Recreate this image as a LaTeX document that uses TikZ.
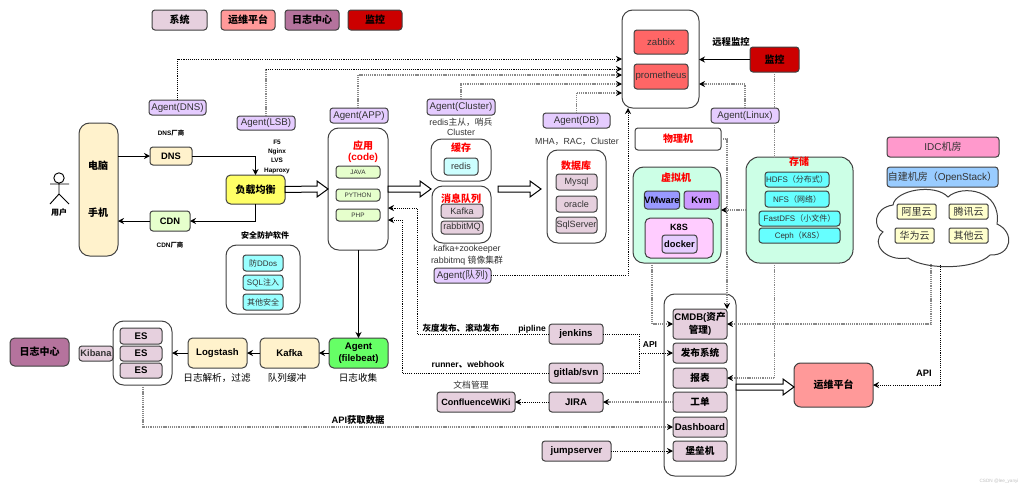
\documentclass[tikz,border=0pt]{standalone}
\usepackage{fontspec}
\setmainfont{Liberation Sans}
\newfontfamily\cjk{Noto Sans CJK SC}
\usetikzlibrary{arrows.meta,calc}
\newcommand\zh[1]{{\cjk #1}}
\newcommand\fs[1]{\fontsize{#1}{#1}\selectfont}
\newcommand\bx[7][]{\node[rbox,#1,minimum width={(#5-#3)*0.75pt},minimum height={(#6-#4)*0.75pt}] (#2) at ({(#3+#5)/2},{(#4+#6)/2}) {#7};}
\newcommand\blk[2]{\draw[blockarrow] ($(#1)+(0,-3)$) -- ($(#2)+(-11,-3)$) -- ($(#2)+(-11,-8)$) -- (#2) -- ($(#2)+(-11,8)$) -- ($(#2)+(-11,3)$) -- ($(#1)+(0,3)$) -- cycle;}
\definecolor{sysc}{HTML}{E6D0DE}
\definecolor{opsc}{HTML}{FF9999}
\definecolor{logc}{HTML}{B5739D}
\definecolor{monc}{HTML}{CC0000}
\definecolor{agc}{HTML}{E5CCFF}
\definecolor{yel}{HTML}{FFF2CC}
\definecolor{grn}{HTML}{E6FFCC}
\definecolor{cy}{HTML}{99FFFF}
\definecolor{cyb}{HTML}{66FFFF}
\definecolor{cyl}{HTML}{CCFFFF}
\definecolor{mint}{HTML}{CCFFE6}
\definecolor{tx}{HTML}{333333}
\definecolor{gl}{HTML}{888888}
\definecolor{lby}{HTML}{FFFF66}
\definecolor{prm}{HTML}{FF6666}
\definecolor{vmw}{HTML}{9999FF}
\definecolor{kvmc}{HTML}{CC99FF}
\definecolor{k8c}{HTML}{FFCCFF}
\definecolor{idcc}{HTML}{FF99CC}
\definecolor{selfc}{HTML}{99CCFF}
\definecolor{cldc}{HTML}{FFFFCC}
\definecolor{fbc}{HTML}{66FF66}
\tikzset{
  rbox/.style={draw=black!75,line width=0.75pt,rounded corners=2.2pt,inner sep=0pt,outer sep=0pt,align=center,text=black,font=\fs{7}},
  cont/.style={rounded corners=8pt},
  legend/.style={font=\fs{7.5}\bfseries},
  agentbox/.style={fill=agc,text=tx,font=\fs{7.3}},
  sysbox/.style={fill=sysc,font=\fs{7.2}\bfseries},
  plainsys/.style={fill=sysc,text=tx,font=\fs{6.8}},
  cyanbox/.style={fill=cy,text=tx,font=\fs{6}},
  greenbox/.style={fill=grn,text=tx,font=\fs{4.8}},
  cloudbox/.style={fill=cldc,text=tx,font=\fs{7.5},rounded corners=1pt},
  lab/.style={inner sep=0pt,outer sep=0pt,align=center,text=black,font=\fs{7}},
  blab/.style={lab,font=\fs{7}\bfseries},
  tiny/.style={lab,font=\fs{4.8}\bfseries},
  grey/.style={lab,text=tx,font=\fs{6.6}},
  redt/.style={lab,text=red,font=\fs{7.5}\bfseries},
  line/.style={draw=black,line width=0.7pt,-{Stealth[length=4.5pt,width=4.5pt]}},
  dots/.style={draw=black,line width=0.7pt,dash pattern=on 0.8pt off 0.8pt,-{Stealth[length=4.5pt,width=4.5pt]}},
  gdots/.style={draw=gl,line width=0.95pt,dash pattern=on 0.8pt off 0.6pt,arrows={-{Stealth[length=4.5pt,width=4.5pt,black]}}},
  blockarrow/.style={draw=black,line width=0.75pt,fill=white,line join=miter},
}
\begin{document}
\begin{tikzpicture}[x=0.75pt,y=-0.75pt]
\useasboundingbox (0,0) rectangle (1024,486);
% legend
\bx[sysbox,legend]{lga}{152}{10}{207}{30}{\zh{系统}}
\bx[fill=opsc,legend]{lgb}{221}{10}{275}{30}{\zh{运维平台}}
\bx[fill=logc,legend]{lgc}{285}{10}{339}{30}{\zh{日志中心}}
\bx[fill=monc,legend]{lgd}{348}{10}{402}{30}{\zh{监控}}
% user
\draw[draw=black,line width=0.7pt] (59,178) circle (5.2);
\draw[draw=black,line width=0.7pt] (59,183.2) -- (59,194) (50,184) -- (69,184) (50,204) -- (59,194) -- (69,204);
\node[blab,font=\fs{6}\bfseries] (usr) at (59,212) {\zh{用户}};
% left side
\bx[cont,fill=yel]{pc}{79}{123}{118}{256}{}
\node[blab,font=\fs{7.5}\bfseries] (pca) at (98,166) {\zh{电脑}};
\node[blab,font=\fs{7.5}\bfseries] (pcb) at (98,213) {\zh{手机}};
\bx[fill=yel,font=\fs{7}\bfseries]{dns}{150}{147}{192}{165}{DNS}
\bx[fill=grn,font=\fs{7}\bfseries]{cdn}{150}{211}{190}{231}{CDN}
\node[tiny] (dnsl) at (171,133) {DNS\zh{厂商}};
\node[tiny] (cdnl) at (170,245) {CDN\zh{厂商}};
\bx[fill=lby,font=\fs{7.5}\bfseries,rounded corners=3.5pt]{lb}{226}{175}{285}{204}{\zh{负载均衡}}
\node[tiny,align=center] (f5) at (277,156.5) {F5\\[2.2pt]Nginx\\[2.2pt]LVS\\[2.2pt]Haproxy};
\node[blab,font=\fs{6}\bfseries] (secl) at (265,235) {\zh{安全防护软件}};
\bx[cont]{sec}{226}{245}{300}{314}{}
\bx[cyanbox]{sa}{243}{255}{283}{271}{\zh{防}DDos}
\bx[cyanbox]{sb}{243}{275}{283}{290}{SQL\zh{注入}}
\bx[cyanbox]{sc}{243}{294}{283}{310}{\zh{其他安全}}
% agents
\bx[agentbox]{agdns}{149}{100}{206}{115}{Agent(DNS)}
\bx[agentbox]{aglsb}{237}{116}{295}{130}{Agent(LSB)}
\bx[agentbox]{agapp}{330}{108}{388}{123}{Agent(APP)}
\bx[agentbox]{agcl}{427}{99}{495}{115}{Agent(Cluster)}
\bx[agentbox]{agdb}{543}{113}{610}{128}{Agent(DB)}
\bx[agentbox]{agq}{434}{268}{491}{283}{Agent(\zh{队列})}
\bx[agentbox]{aglx}{711}{108}{779}{123}{Agent(Linux)}
% app
\bx[cont]{app}{328}{128}{388}{250}{}
\node[redt] (appl) at (363,152) {\zh{应用}\\[1pt](code)};
\bx[greenbox]{ja}{336}{166}{380}{178}{JAVA}
\bx[greenbox]{py}{336}{189}{380}{201}{PYTHON}
\bx[greenbox]{php}{336}{209}{380}{221}{PHP}
% cache
\node[grey] (cll) at (461,126.5) {redis\zh{主从，哨兵}\\[1pt]Cluster};
\bx[cont]{cache}{431}{139}{491}{181}{}
\node[redt] (cachel) at (461,148) {\zh{缓存}};
\bx[fill=cyl,text=tx,font=\fs{6.8}]{redis}{444}{158}{478}{175}{redis}
\bx[cont]{mq}{432}{186}{491}{243}{}
\node[redt] (mql) at (461,199) {\zh{消息队列}};
\bx[plainsys]{kafkab}{441}{204}{483}{218}{Kafka}
\bx[plainsys]{rabbit}{441}{221}{483}{234}{rabbitMQ}
\node[grey] (mqn) at (467,255.5) {kafka+zookeeper\\[1pt]rabbitmq \zh{镜像集群}};
% db
\node[grey] (dbn) at (577,142) {MHA\zh{，}RAC\zh{，}Cluster};
\bx[cont]{db}{547}{150}{606}{243}{}
\node[redt] (dbl) at (576,166) {\zh{数据库}};
\bx[plainsys]{mysql}{556}{174}{597}{190}{Mysql}
\bx[plainsys]{oracle}{556}{196}{597}{212}{oracle}
\bx[plainsys]{sqls}{556}{217}{597}{233}{SqlServer}
% monitor
\bx[cont]{mon}{622}{10}{699}{108}{}
\bx[fill=prm,text=tx,font=\fs{7.2}]{zab}{634}{30}{688}{54}{zabbix}
\bx[fill=prm,text=tx,font=\fs{7.2}]{prom}{634}{64}{688}{89}{prometheus}
\bx[fill=monc,legend]{mo}{750}{47}{799}{72}{\zh{监控}}
\node[blab] (rml) at (731,42) {\zh{远程监控}};
% physical, vm
\bx{phy}{635}{128}{721}{150}{}
\node[redt] (phyl) at (678,139) {\zh{物理机}};
\bx[cont,fill=mint]{vm}{633}{167}{721}{263}{}
\node[redt] (vml) at (676,178) {\zh{虚拟机}};
\bx[fill=vmw,font=\fs{7}\bfseries]{vmw}{645}{191}{679}{209}{VMware}
\bx[fill=kvmc,font=\fs{7}\bfseries]{kvm}{684}{191}{719}{209}{Kvm}
\bx[fill=k8c,rounded corners=4pt]{k8s}{645}{218}{713}{258}{}
\node[blab,font=\fs{6.8}\bfseries] (k8sl) at (679,227) {K8S};
\bx[fill=agc,font=\fs{7}\bfseries]{dock}{662}{235}{697}{253}{docker}
% storage
\bx[fill=mint,rounded corners=10pt]{st}{746}{157}{853}{263}{}
\node[redt] (stl) at (799,162) {\zh{存储}};
\bx[fill=cyb,text=tx,font=\fs{6}]{hdfs}{765}{172}{829}{187}{HDFS\zh{（分布式）}}
\bx[fill=cyb,text=tx,font=\fs{6}]{nfs}{765}{191}{829}{207}{NFS\zh{（网络）}}
\bx[fill=cyb,text=tx,font=\fs{6}]{fdfs}{759}{211}{840}{226}{FastDFS\zh{（小文件）}}
\bx[fill=cyb,text=tx,font=\fs{6}]{ceph}{759}{228}{840}{243}{Ceph\zh{（K8S）}}
% rooms and clouds
\bx[fill=idcc,text=tx,font=\fs{7.5}]{idc}{887}{137}{999}{157}{IDC\zh{机房}}
\bx[fill=selfc,text=tx,font=\fs{7.5}]{self}{887}{167}{998}{187}{\zh{自建机房（}OpenStack\zh{）}}
\draw[draw=black!75,line width=0.75pt,fill=white] (883,232) .. controls (873,228) and (873,208) .. (893,205) .. controls (895,190) and (935,183) .. (948,197) .. controls (962,184) and (1002,190) .. (997,224) .. controls (1015,232) and (1012,256) .. (990,255) .. controls (975,270) and (925,270) .. (908,258) .. controls (885,262) and (870,243) .. (883,232) -- cycle;
\coordinate (cla) at (931,264);
\coordinate (clb) at (940,265);
\bx[cloudbox]{ali}{897}{204}{936}{219}{\zh{阿里云}}
\bx[cloudbox]{ten}{949}{204}{988}{219}{\zh{腾讯云}}
\bx[cloudbox]{hw}{895}{228}{934}{243}{\zh{华为云}}
\bx[cloudbox]{oth}{949}{228}{988}{243}{\zh{其他云}}
% ops
\bx[cont]{ops}{664}{294}{736}{476}{}
\bx[sysbox]{cmdb}{673}{309}{727}{339}{CMDB(\zh{资产}\\[1pt]\zh{管理})}
\bx[sysbox]{pub}{673}{343}{727}{363}{\zh{发布系统}}
\bx[sysbox]{rep}{673}{368}{727}{388}{\zh{报表}}
\bx[sysbox]{tick}{673}{392}{727}{412}{\zh{工单}}
\bx[sysbox]{dash}{673}{417}{727}{437}{Dashboard}
\bx[sysbox]{bast}{673}{441}{727}{461}{\zh{堡垒机}}
\bx[fill=opsc,font=\fs{7.5}\bfseries,rounded corners=5pt]{opp}{794}{363}{873}{407}{\zh{运维平台}}
% tools
\bx[sysbox]{jen}{549}{324}{603}{344}{jenkins}
\bx[sysbox]{git}{549}{363}{603}{383}{gitlab/svn}
\bx[sysbox]{jira}{549}{392}{603}{412}{JIRA}
\bx[sysbox,font=\fs{6.8}\bfseries]{conf}{437}{392}{515}{412}{ConfluenceWiKi}
\bx[sysbox]{jump}{542}{441}{611}{461}{jumpserver}
\node[blab,font=\fs{6.4}\bfseries] (grayl) at (461,328) {\zh{灰度发布、滚动发布}};
\node[blab,font=\fs{6.4}\bfseries] (pipl) at (532,329) {pipline};
\node[blab,font=\fs{6.4}\bfseries] (apil) at (650,345) {API};
\node[blab,font=\fs{6.4}\bfseries] (runl) at (468,365) {runner\zh{、}webhook};
\node[grey] (docl) at (471,385) {\zh{文档管理}};
\node[blab] (apir) at (924,373) {API};
\node[blab] (apig) at (358,420) {API\zh{获取数据}};
% log chain
\bx[fill=logc,legend,rounded corners=3.5pt]{logc}{10}{338}{69}{366}{\zh{日志中心}}
\bx[plainsys,font=\fs{7}\bfseries]{kib}{79}{346}{113}{361}{Kibana}
\bx[cont]{esb}{113}{321}{172}{385}{}
\bx[sysbox]{esa}{120}{328}{162}{344}{ES}
\bx[sysbox]{esc}{120}{346}{162}{361}{ES}
\bx[sysbox]{esd}{120}{363}{162}{378}{ES}
\bx[fill=yel,font=\fs{7.2}\bfseries,rounded corners=3.5pt]{ls}{188}{338}{247}{368}{Logstash}
\bx[fill=yel,font=\fs{7.2}\bfseries,rounded corners=3.5pt]{kf}{260}{338}{319}{368}{Kafka}
\bx[fill=fbc,font=\fs{7.2}\bfseries,rounded corners=3.5pt]{fb}{329}{338}{388}{368}{Agent\\[2pt](filebeat)}
\node[lab,font=\fs{7.2}] (lsl) at (217,378) {\zh{日志解析，过滤}};
\node[lab,font=\fs{7.2}] (kfl) at (287,378) {\zh{队列缓冲}};
\node[lab,font=\fs{7.2}] (fbl) at (358,378) {\zh{日志收集}};
% solid connectors
\draw[line] (pc.east |- dns.west) -- (dns.west);
\draw[line] (dns.east) -| (lb.north);
\draw[line] (lb.south) |- (cdn.east);
\draw[line] (cdn.west) -- (pc.east |- cdn.west);
\draw[line] (app.south -| fb.north) -- (fb.north);
\draw[line] (fb.west) -- (kf.east);
\draw[line] (kf.west) -- (ls.east);
\draw[line] (ls.west) -- (esb.east |- ls.west);
\draw[line] (mo.west) -- (mon.east |- mo.west);
% dotted to monitor
\draw[dots] (agdns.north) |- (mon.west |- 0,59);
\draw[gdots,arrows=-] (aglsb.north) -- (aglsb.north |- 0,69);
\draw[dots] (aglsb.north |- 0,69) -- (mon.west |- 0,69);
\draw[gdots] (agapp.north -| 358,0) |- (mon.west |- 0,75);
\draw[gdots] (agcl.north) |- (mon.west |- 0,84);
\draw[gdots] (agdb.north) |- (mon.west |- 0,93);
\draw[dots] (agq.east) -| (mon.south -| 628,0);
\draw[gdots] (aglx.north -| 745,0) |- (mon.east |- 0,84);
% storage/monitor trunk
\draw[gdots,arrows=-] (mo.south) -- (aglx.north -| mo.south);
\draw[gdots,arrows=-] (aglx.south -| mo.south) -- (st.north -| mo.south);
\draw[gdots] (st.south -| mo.south) |- (rep.east);
\draw[gdots] (st.west |- 0,210) -- (vm.east |- 0,210);
\draw[gdots] (phy.east) -| (cmdb.north east);
\draw[gdots] (vm.south -| 652,0) |- (cmdb.west);
\draw[gdots] (cla) |- (cmdb.east);
\draw[dots] (clb) |- (opp.east |- 0,385);
% tools
\coordinate (jg) at (639,373);
\coordinate (jm) at (639,353);
\draw[dots,arrows=-] (jen.east) -| (jg);
\draw[dots,arrows=-] (git.east) -- (jg);
\draw[dots] (jm) -- (pub.west);
\draw[dots] (jen.west) -| (417,208) -- (app.east |- 0,208);
\draw[dots] (git.west) -| (402,220) -- (app.east |- 0,220);
\draw[gdots] (tick.west) -- (jira.east);
\draw[dots] (jira.west) -- (conf.east);
\draw[gdots] (esb.south -| 143,0) |- (dash.west);
\draw[dots] (jump.east) -- (bast.west);
% block arrows
\coordinate (bqs) at (498,189);
\coordinate (bqe) at (541,189);
\coordinate (bae) at (431,189);
\coordinate (boa) at (736,387);
\coordinate (bob) at (794,387);
\blk{lb.east}{app.west}
\blk{app.east}{bae}
\blk{bqs}{bqe}
\blk{boa}{bob}
% watermark
\node[lab,text=black!25,font=\fs{3.5}] (wm) at (999,481) {CSDN @lee\_yanyi};
\end{tikzpicture}
\end{document}
